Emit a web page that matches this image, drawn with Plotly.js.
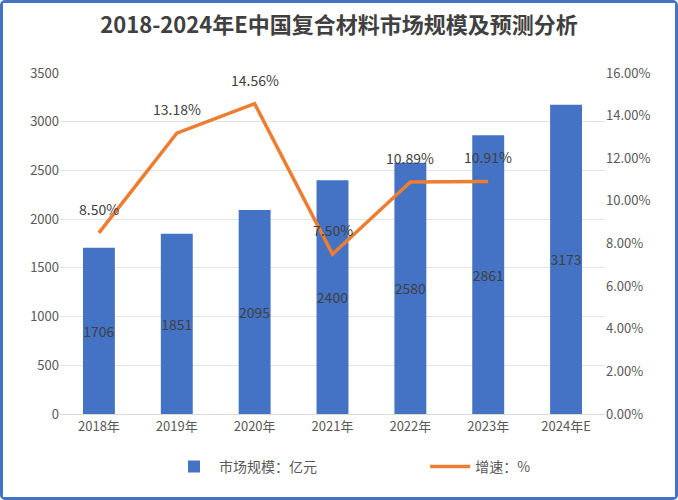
<!DOCTYPE html>
<html>
<head>
<meta charset="utf-8">
<script src="https://cdn.plot.ly/plotly-3.0.1.min.js"></script>
<style>
  html, body { margin: 0; padding: 0; background: #fff; }
  #chart { width: 678px; height: 500px; box-sizing: border-box; border: 3px solid #4472C4; border-radius: 5px; }
</style>
</head>
<body>
<div id="chart"></div>
<script>
var years = ['2018年', '2019年', '2020年', '2021年', '2022年', '2023年', '2024年E'];
var scale = [1706, 1851, 2095, 2400, 2580, 2861, 3173];
var growthYears = ['2018年', '2019年', '2020年', '2021年', '2022年', '2023年'];
var growth = [0.085, 0.1318, 0.1456, 0.075, 0.1089, 0.1091];

var font = '"Noto Sans CJK SC", "Noto Sans", sans-serif';

var bars = {
  x: years,
  y: scale,
  type: 'bar',
  name: '市场规模：亿元',
  legend: 'legend',
  marker: { color: '#4472C4' },
  width: 0.41,
  text: scale.map(String),
  textposition: 'inside',
  insidetextanchor: 'middle',
  textangle: 0,
  constraintext: 'none',
  textfont: { color: '#404040', size: 14, family: font },
  hoverinfo: 'x+y'
};

var line = {
  x: growthYears,
  y: growth,
  yaxis: 'y2',
  type: 'scatter',
  mode: 'lines',
  name: '增速：%',
  legend: 'legend2',
  line: { color: '#ED7D31', width: 3.5 }
};

// growth labels sit a bit higher above the points than Plotly's own text
var labels = growth.map(function (v, i) {
  return {
    x: growthYears[i], y: v, xref: 'x', yref: 'y2',
    text: (v * 100).toFixed(2) + '%',
    showarrow: false, yshift: 24,
    font: { color: '#404040', size: 14, family: font }
  };
});

var legendStyle = { font: { size: 14, color: '#595959' }, itemwidth: 40 };

var layout = {
  width: 672,
  height: 494,
  margin: { l: 57, r: 70, t: 70, b: 83 },
  paper_bgcolor: '#fff',
  plot_bgcolor: '#fff',
  font: { family: font, color: '#595959', size: 13 },
  title: {
    text: '<b>2018-2024年E中国复合材料市场规模及预测分析</b>',
    font: { size: 22, color: '#404040', family: font },
    x: 0.5, xanchor: 'center', y: 0.955, yanchor: 'middle'
  },
  showlegend: true,
  legend: Object.assign({ orientation: 'h', x: 0.2, xanchor: 'left', y: -0.155, yanchor: 'middle' }, legendStyle),
  legend2: Object.assign({ orientation: 'h', x: 0.67, xanchor: 'left', y: -0.155, yanchor: 'middle' }, legendStyle),
  annotations: labels,
  xaxis: {
    type: 'category',
    showline: true, linecolor: '#d9d9d9', linewidth: 1,
    ticks: '', tickfont: { size: 13, color: '#595959' }
  },
  yaxis: {
    range: [0, 3500], dtick: 500,
    showgrid: true, gridcolor: '#e3e3e3',
    zeroline: false, showline: false, ticks: '',
    tickfont: { size: 13, color: '#595959' }
  },
  yaxis2: {
    overlaying: 'y', side: 'right',
    range: [0, 0.16], dtick: 0.02, tickformat: '.2%',
    showgrid: false, zeroline: false, showline: false,
    tickfont: { size: 13, color: '#595959' }
  },
  bargap: 0.59
};

Plotly.newPlot('chart', [bars, line], layout, { displayModeBar: false, responsive: false });
</script>
</body>
</html>
